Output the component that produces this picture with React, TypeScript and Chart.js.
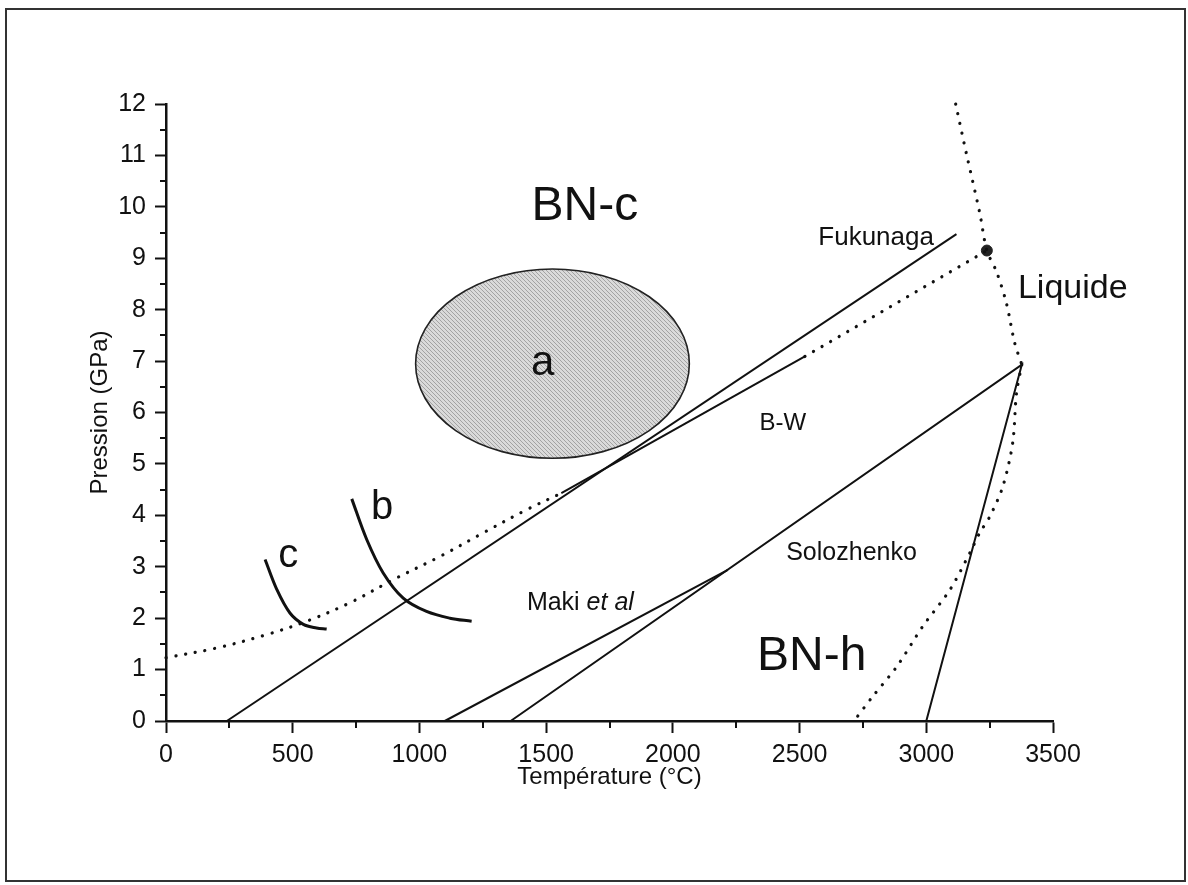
import { useEffect, useRef } from "react";
import { Chart, registerables } from "chart.js";

Chart.register(...registerables);

// Boundaries of the boron nitride phase diagram: temperature (°C) and pressure (GPa)
const fukunagaT = [240, 3119];
const fukunagaP = [0, 9.47];

const bwT = [1560, 2521];
const bwP = [4.43, 7.09];

const bwExtT = [2521, 3239];
const bwExtP = [7.09, 9.15];

const lowEquilT = [0, 200, 397, 555, 726, 897, 1081, 1252, 1423, 1560];
const lowEquilP = [1.23, 1.42, 1.68, 1.94, 2.3, 2.75, 3.2, 3.66, 4.11, 4.43];

const solozhenkoT = [1360, 3377, 3000];
const solozhenkoP = [0, 6.93, 0];

const makiT = [1100, 2217];
const makiP = [0, 2.94];

const meltUpperT = [3116, 3158, 3211, 3239, 3277, 3316, 3349, 3377];
const meltUpperP = [12, 11.04, 9.88, 9.15, 8.74, 8.13, 7.35, 6.93];

const meltLowerT = [3377, 3356, 3341, 3302, 3250, 3211, 3172, 3093, 2986, 2884, 2789, 2715];
const meltLowerP = [6.93, 6.38, 5.41, 4.56, 3.97, 3.66, 3.27, 2.55, 1.84, 1.06, 0.48, 0];

const curveBT = [733, 792, 857, 936, 1028, 1120, 1206];
const curveBP = [4.32, 3.53, 2.88, 2.39, 2.13, 2.0, 1.94];

const curveCT = [391, 437, 489, 542, 594, 634];
const curveCP = [3.14, 2.56, 2.1, 1.88, 1.81, 1.79];

const tripleT = [3239];
const tripleP = [9.15];

// Synthesis domain "a": centre (T, P) and half-widths (ΔT, ΔP)
const domainCentre = [1525, 6.95];
const domainRadii = [540, 1.84];

// Labelled axis values
const xMajorTicks = [0, 500, 1000, 1500, 2000, 2500, 3000, 3500];
const yMajorTicks = [0, 1, 2, 3, 4, 5, 6, 7, 8, 9, 10, 11, 12];

const FONT = "'Liberation Sans', Arial, Helvetica, sans-serif";

type Label = { text: string; t: number; p: number; size: number; align?: CanvasTextAlign; italicTail?: string };

const regionLabels: Label[] = [
  { text: "BN-c", t: 1653, p: 10.0, size: 48 },
  { text: "BN-h", t: 2548, p: 1.25, size: 48 },
  { text: "Liquide", t: 3578, p: 8.4, size: 34 },
  { text: "a", t: 1486, p: 6.96, size: 42 },
  { text: "b", t: 853, p: 4.14, size: 40 },
  { text: "c", t: 482, p: 3.2, size: 40 },
  { text: "Fukunaga", t: 2802, p: 9.39, size: 26 },
  { text: "B-W", t: 2434, p: 5.78, size: 24 },
  { text: "Solozhenko", t: 2705, p: 3.27, size: 25 },
  { text: "Maki ", t: 1424, p: 2.3, size: 25, align: "left", italicTail: "et al" },
];

const pts = (ts: number[], ps: number[]) => ts.map((t, i) => ({ x: t, y: ps[i] }));

const solid = (data: { x: number; y: number }[], width = 2, tension = 0) => ({
  data,
  showLine: true,
  borderColor: "#111",
  borderWidth: width,
  pointRadius: 0,
  tension,
  fill: false,
  clip: false as const,
});

const dotted = (data: { x: number; y: number }[], tension = 0) => ({
  ...solid(data, 3.2, tension),
  borderDash: [0.1, 9.8],
  borderCapStyle: "round" as const,
});

function makeHatch(): CanvasPattern | string {
  const tile = document.createElement("canvas");
  tile.width = 4;
  tile.height = 4;
  const c = tile.getContext("2d");
  if (!c) return "#c8c8c8";
  c.fillStyle = "#dadada";
  c.fillRect(0, 0, 4, 4);
  c.strokeStyle = "#a3a3a3";
  c.lineWidth = 1;
  c.beginPath();
  c.moveTo(-1, -1);
  c.lineTo(5, 5);
  c.moveTo(-1, 3);
  c.lineTo(1, 5);
  c.moveTo(3, -1);
  c.lineTo(5, 1);
  c.stroke();
  const pat = c.createPattern(tile, "repeat");
  return pat || "#c8c8c8";
}

const domainPlugin = {
  id: "domain",
  beforeDatasetsDraw(chart: any) {
    const { ctx } = chart;
    const xs = chart.scales.x;
    const ys = chart.scales.y;
    const cx = xs.getPixelForValue(domainCentre[0]);
    const cy = ys.getPixelForValue(domainCentre[1]);
    const rx = Math.abs(xs.getPixelForValue(domainCentre[0] + domainRadii[0]) - cx);
    const ry = Math.abs(ys.getPixelForValue(domainCentre[1] + domainRadii[1]) - cy);
    ctx.save();
    ctx.beginPath();
    ctx.ellipse(cx, cy, rx, ry, 0, 0, Math.PI * 2);
    ctx.fillStyle = makeHatch();
    ctx.fill();
    ctx.lineWidth = 1.6;
    ctx.strokeStyle = "#222";
    ctx.stroke();
    ctx.restore();
  },
};

const labelPlugin = {
  id: "regionLabels",
  afterDatasetsDraw(chart: any) {
    const { ctx } = chart;
    const xs = chart.scales.x;
    const ys = chart.scales.y;
    ctx.save();
    ctx.fillStyle = "#111";
    ctx.textBaseline = "middle";
    regionLabels.forEach((l) => {
      const x = xs.getPixelForValue(l.t);
      const y = ys.getPixelForValue(l.p);
      ctx.font = `${l.size}px ${FONT}`;
      ctx.textAlign = l.align || "center";
      ctx.fillText(l.text, x, y);
      if (l.italicTail) {
        const w = ctx.measureText(l.text).width;
        ctx.font = `italic ${l.size}px ${FONT}`;
        ctx.textAlign = "left";
        ctx.fillText(l.italicTail, x + w, y);
      }
    });
    ctx.restore();
  },
};

// Short unlabelled ticks between the labelled ones
const minorTickPlugin = {
  id: "minorTicks",
  afterDraw(chart: any) {
    const { ctx, chartArea } = chart;
    const xs = chart.scales.x;
    const ys = chart.scales.y;
    ctx.save();
    ctx.strokeStyle = "#111";
    ctx.lineWidth = 2;
    ctx.beginPath();
    xs.ticks.forEach((t: any) => {
      if (xMajorTicks.includes(t.value)) return;
      const px = Math.round(xs.getPixelForValue(t.value));
      ctx.moveTo(px, chartArea.bottom);
      ctx.lineTo(px, chartArea.bottom + 7);
    });
    ys.ticks.forEach((t: any) => {
      if (yMajorTicks.includes(t.value)) return;
      const py = Math.round(ys.getPixelForValue(t.value));
      ctx.moveTo(chartArea.left, py);
      ctx.lineTo(chartArea.left - 6, py);
    });
    ctx.stroke();
    ctx.restore();
  },
};

export default function App() {
  const canvasRef = useRef<HTMLCanvasElement | null>(null);

  useEffect(() => {
    const canvas = canvasRef.current;
    if (!canvas) return;

    const chart = new Chart(canvas, {
      type: "scatter",
      data: {
        datasets: [
          solid(pts(fukunagaT, fukunagaP)),
          solid(pts(bwT, bwP)),
          dotted(pts(bwExtT, bwExtP)),
          dotted(pts(lowEquilT, lowEquilP), 0.35),
          solid(pts(solozhenkoT, solozhenkoP)),
          solid(pts(makiT, makiP)),
          dotted(pts(meltUpperT, meltUpperP), 0.3),
          dotted(pts(meltLowerT, meltLowerP), 0.3),
          solid(pts(curveBT, curveBP), 3, 0.35),
          solid(pts(curveCT, curveCP), 3, 0.35),
          {
            data: pts(tripleT, tripleP),
            showLine: false,
            pointRadius: 5.5,
            pointBackgroundColor: "#222",
            pointBorderColor: "#222",
            clip: false,
          },
        ] as any,
      },
      options: {
        responsive: false,
        animation: false,
        events: [],
        layout: { padding: { left: 82, right: 135, top: 104, bottom: 89 } },
        plugins: {
          legend: { display: false },
          tooltip: { enabled: false },
        },
        scales: {
          x: {
            type: "linear",
            min: 0,
            max: 3500,
            afterFit: (s: any) => {
              s.height = 75;
            },
            border: { display: true, color: "#111", width: 2.5 },
            grid: {
              display: true,
              drawOnChartArea: false,
              drawTicks: true,
              tickLength: 12,
              tickWidth: 2,
              tickColor: (c: any) =>
                c.tick && xMajorTicks.includes(c.tick.value) ? "#111" : "rgba(0,0,0,0)",
            },
            ticks: {
              stepSize: 250,
              autoSkip: false,
              maxRotation: 0,
              padding: 7,
              color: "#111",
              font: { family: FONT, size: 25 },
              callback: (v: any) => (xMajorTicks.includes(v) ? String(v) : ""),
            },
            title: {
              display: true,
              text: "Température (°C)",
              color: "#111",
              font: { family: FONT, size: 24 },
              padding: { top: 4, bottom: 4 },
            },
          },
          y: {
            type: "linear",
            min: 0,
            max: 12,
            afterFit: (s: any) => {
              s.width = 84;
            },
            border: { display: true, color: "#111", width: 2.5 },
            grid: {
              display: true,
              drawOnChartArea: false,
              drawTicks: true,
              tickLength: 11,
              tickWidth: 2,
              tickColor: (c: any) =>
                c.tick && yMajorTicks.includes(c.tick.value) ? "#111" : "rgba(0,0,0,0)",
            },
            ticks: {
              stepSize: 0.5,
              autoSkip: false,
              padding: 9,
              color: "#111",
              font: { family: FONT, size: 25 },
              callback: (v: any) => (yMajorTicks.includes(v) ? String(v) : ""),
            },
            title: {
              display: true,
              text: "Pression (GPa)",
              color: "#111",
              font: { family: FONT, size: 24 },
              padding: { top: 4, bottom: 4 },
            },
          },
        },
      },
      plugins: [domainPlugin, labelPlugin, minorTickPlugin],
    });

    return () => chart.destroy();
  }, []);

  return (
    <div
      style={{
        position: "absolute",
        left: 0,
        top: 0,
        width: 1188,
        height: 885,
        background: "#fff",
        overflow: "hidden",
      }}
    >
      <div
        style={{
          position: "absolute",
          left: 5,
          top: 8,
          width: 1181,
          height: 874,
          border: "2px solid #333",
          boxSizing: "border-box",
        }}
      />
      <canvas
        ref={canvasRef}
        width={1188}
        height={885}
        style={{ position: "absolute", left: 0, top: 0, width: 1188, height: 885 }}
      />
    </div>
  );
}
